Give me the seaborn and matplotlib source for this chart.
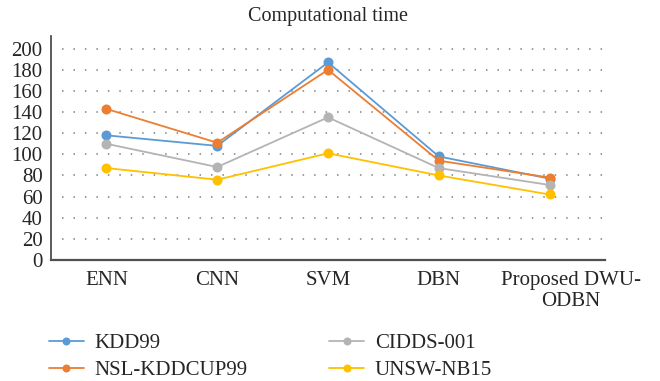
import matplotlib
matplotlib.use("Agg")
import matplotlib.pyplot as plt
import matplotlib.transforms as mtransforms
import seaborn as sns
import pandas as pd

categories = ["ENN", "CNN", "SVM", "DBN", "Proposed DWU-\nODBN"]
series_names = ["KDD99", "NSL-KDDCUP99", "CIDDS-001", "UNSW-NB15"]
kdd99 = [118, 108, 187, 98, 77]
nsl_kddcup99 = [143, 111, 180, 94, 78]
cidds001 = [110, 88, 135, 87, 71]
unsw_nb15 = [87, 76, 101, 80, 62]
y_ticks = [0, 20, 40, 60, 80, 100, 120, 140, 160, 180, 200]

colors = ["#5B9BD5", "#ED7D31", "#B4B4B4", "#FFC000"]

rows = []
for name, vals in zip(series_names, [kdd99, nsl_kddcup99, cidds001, unsw_nb15]):
    for c, v in zip(categories, vals):
        rows.append({"Method": c, "Time": v, "Dataset": name})
df = pd.DataFrame(rows)

sns.set_style("white")
plt.rcParams["font.family"] = ["Liberation Serif", "DejaVu Serif"]
FS = 15

fig = plt.figure(figsize=(6.6, 3.81), dpi=100)
ax = fig.add_axes([51 / 660, 1 - 260 / 381, (605 - 51) / 660, (260 - 36) / 381])

sns.lineplot(data=df, x="Method", y="Time", hue="Dataset", hue_order=series_names,
             palette=colors, marker="o", markersize=7.2, markeredgewidth=0,
             linewidth=1.3, sort=False, ax=ax, legend=True)

ax.set_xlim(-0.5, 4.5)
ax.set_ylim(0, 212)
ax.set_yticks(y_ticks)
ax.set_yticklabels([str(t) for t in y_ticks], fontsize=FS)
ax.set_xticks(range(len(categories)))
ax.set_xticklabels(categories, fontsize=FS, linespacing=1.1)
ax.tick_params(axis="y", length=0, pad=6)
ax.tick_params(axis="x", length=0, pad=8)
ax.set_xlabel("")
ax.set_ylabel("")

# last category label sits slightly to the right in the reference
last = ax.get_xticklabels()[-1]
last.set_transform(last.get_transform() + mtransforms.ScaledTranslation(21 / 100, 0, fig.dpi_scale_trans))

for t in y_ticks[1:]:
    ax.axhline(t, xmin=0.02, xmax=1.0, color="#808080", linewidth=1.1,
               linestyle=(0, (1, 6.5)), zorder=0)

for side in ["top", "right"]:
    ax.spines[side].set_visible(False)
ax.spines["left"].set_color("#404040")
ax.spines["left"].set_linewidth(1.2)
ax.spines["bottom"].set_color("#505050")
ax.spines["bottom"].set_linewidth(1.6)

fig.text(328 / 660, 1 - 16 / 381, "Computational time", ha="center", va="center",
         fontsize=14.5)

handles, labels = ax.get_legend_handles_labels()
ax.get_legend().remove()
order = [series_names.index(n) for n in ["KDD99", "NSL-KDDCUP99", "CIDDS-001", "UNSW-NB15"]]
leg = fig.legend([handles[i] for i in order], [labels[i] for i in order],
                 ncol=2, loc="center left", bbox_to_anchor=(30 / 660, 1 - 357 / 381),
                 frameon=False, fontsize=FS, handlelength=1.7, columnspacing=3.9,
                 labelspacing=0.35, handletextpad=0.5, markerscale=0.8)

fig.savefig("out.png", dpi=100)
